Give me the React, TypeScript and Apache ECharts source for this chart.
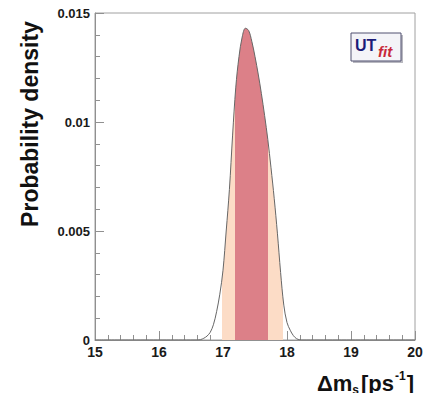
import React, { useEffect, useRef } from "react";
import * as echarts from "echarts";

// Δm_s posterior
const dmValues = [15, 16.6, 16.65, 16.7, 16.75, 16.8, 16.85, 16.9, 16.95, 17.0, 17.05, 17.1, 17.15, 17.2, 17.25, 17.3, 17.35, 17.4, 17.45, 17.5, 17.55, 17.6, 17.65, 17.7, 17.75, 17.8, 17.85, 17.9, 17.95, 18.0, 18.05, 18.1, 18.15, 18.2, 18.25, 20];
const densityValues = [0, 0, 0.00002, 0.00008, 0.00018, 0.00035, 0.0007, 0.0013, 0.0021, 0.0032, 0.005, 0.0069, 0.0094, 0.0116, 0.013, 0.0139, 0.0143, 0.0142, 0.0137, 0.013, 0.0122, 0.0113, 0.0103, 0.0092, 0.0079, 0.0065, 0.0049, 0.0031, 0.0016, 0.0008, 0.00045, 0.0002, 0.00006, 0.00001, 0, 0];
const range68 = [17.18, 17.71];
const range95 = [16.98, 17.94];
const xTicks = [15, 16, 17, 18, 19, 20];
const yTickLabels = ["0", "0.005", "0.01", "0.015"];

const PEACH = "#fcdcc6";
const RED = "#dc8088";

export default function App() {
  const ref = useRef<HTMLDivElement>(null);
  useEffect(() => {
    if (!ref.current) return;
    const chart = echarts.init(ref.current, undefined, { renderer: "svg" });
    const data = dmValues.map((x, i) => [x, densityValues[i]]);
    const labelFont = { color: "#1a1a1a", fontWeight: "bold" as const, fontFamily: "'Liberation Sans', Arial, sans-serif" };
    chart.setOption({
      animation: false,
      backgroundColor: "#ffffff",
      grid: { left: 95, right: 19, top: 13, bottom: 61, show: true, borderColor: "#a0a0a0", borderWidth: 1 },
      xAxis: {
        type: "value",
        min: xTicks[0],
        max: xTicks[xTicks.length - 1],
        interval: 1,
        axisLine: { lineStyle: { color: "#909090", width: 1 } },
        axisTick: { inside: true, length: 9, lineStyle: { color: "#909090" } },
        minorTick: { show: true, splitNumber: 5, length: 5, lineStyle: { color: "#909090" } },
        splitLine: { show: false },
        axisLabel: { ...labelFont, fontSize: 14, margin: 5 },
      },
      yAxis: {
        type: "value",
        min: 0,
        max: 0.015,
        interval: 0.005,
        axisLine: { show: true, lineStyle: { color: "#909090", width: 1 } },
        axisTick: { show: true, inside: true, length: 9, lineStyle: { color: "#909090" } },
        minorTick: { show: true, splitNumber: 5, length: 5, lineStyle: { color: "#909090" } },
        splitLine: { show: false },
        axisLabel: {
          ...labelFont,
          fontSize: 13,
          margin: 5,
          formatter: (v: number) => yTickLabels[Math.round(v / 0.005)] ?? String(v),
        },
      },
      visualMap: {
        type: "piecewise",
        show: false,
        dimension: 0,
        seriesIndex: 1,
        pieces: [
          { gt: range95[0], lte: range68[0], color: PEACH },
          { gt: range68[0], lte: range68[1], color: RED },
          { gt: range68[1], lte: range95[1], color: PEACH },
        ],
        outOfRange: { color: "rgba(255,255,255,0)" },
      },
      series: [
        {
          type: "line",
          data,
          smooth: 0.35,
          showSymbol: false,
          z: 3,
          lineStyle: { color: "#666666", width: 1 },
        },
        {
          type: "line",
          data,
          smooth: 0.35,
          showSymbol: false,
          z: 2,
          lineStyle: { width: 0, opacity: 0 },
          areaStyle: { opacity: 1 },
        },
      ],
      graphic: [
        {
          type: "text",
          x: 30,
          y: 124,
          rotation: Math.PI / 2,
          style: {
            text: "Probability density",
            font: "bold 23px 'Liberation Sans', Arial, sans-serif",
            fill: "#111",
            align: "center",
            verticalAlign: "middle",
          },
        },
        {
          type: "text",
          x: 317,
          y: 383,
          style: {
            text: "{a|Δm}{b|s}{a|[ps}{c|-1}{a|]}",
            align: "left",
            verticalAlign: "middle",
            rich: {
              a: { font: "bold 22px 'Liberation Sans', Arial, sans-serif", fill: "#111", lineHeight: 26, verticalAlign: "middle" },
              b: { font: "bold 12px 'Liberation Sans', Arial, sans-serif", fill: "#111", lineHeight: 12, verticalAlign: "bottom", padding: [0, 2, 0, 0] },
              c: { font: "bold 12px 'Liberation Sans', Arial, sans-serif", fill: "#111", lineHeight: 12, verticalAlign: "top", padding: [0, 1, 0, 1] },
            },
          },
        },
        {
          type: "group",
          x: 351,
          y: 33,
          children: [
            { type: "rect", shape: { x: 2, y: 2, width: 50, height: 28 }, style: { fill: "#b8b8c0" } },
            { type: "rect", shape: { x: 0, y: 0, width: 50, height: 28 }, style: { fill: "#f4f4f8", stroke: "#505070", lineWidth: 1 } },
            {
              type: "text",
              x: 4,
              y: 12,
              style: { text: "UT", font: "bold 16px 'Liberation Sans', Arial, sans-serif", fill: "#1c1c78", verticalAlign: "middle", align: "left" },
            },
            {
              type: "text",
              x: 27,
              y: 18,
              style: { text: "fit", font: "italic bold 15px 'Liberation Sans', Arial, sans-serif", fill: "#c82838", verticalAlign: "middle", align: "left" },
            },
          ],
        },
      ],
    });
    return () => chart.dispose();
  }, []);
  return <div ref={ref} style={{ width: 434, height: 401, margin: -8 }} />;
}
